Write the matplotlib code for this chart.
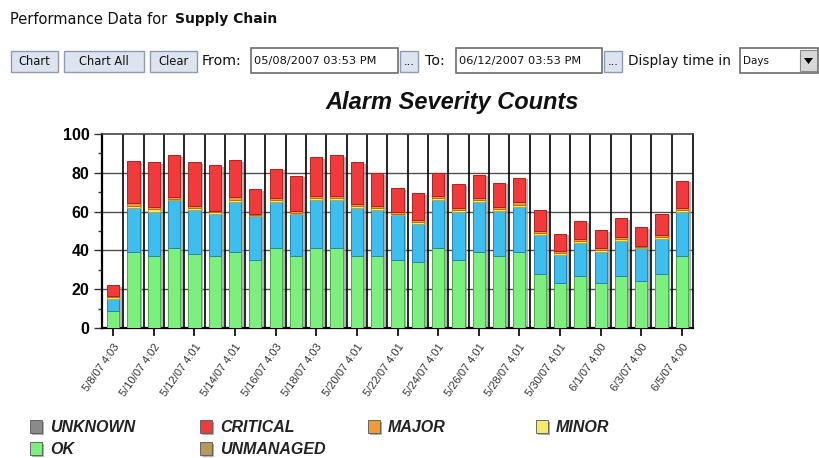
import numpy as np
import matplotlib
matplotlib.use("Agg")
from matplotlib import pyplot as plt
from matplotlib.patches import Rectangle, Polygon

# daily alarm counts per severity, 5/8/07 .. 6/5/07
ok = [9, 39, 37, 41, 38, 37, 39, 35, 41, 37, 41, 41, 37, 37, 35,
      34, 41, 35, 39, 37, 39, 28, 23, 27, 23, 27, 24, 28, 37]
warning = [6, 23, 23, 25, 23, 22, 26, 22.5, 24, 22, 25, 25, 25, 24, 23,
           19.5, 25, 25, 26, 23.5, 23.5, 20, 14.5, 17, 16, 18, 17, 18, 23]
minor = [1, 1, 1.5, 0.5, 1, 0.7, 1, 0.5, 1, 0.5, 1, 1, 1, 0.8, 1,
         1, 1, 1, 1, 1, 1, 1, 1, 1, 1, 1, 0.5, 1, 1]
major = [0.5, 1.5, 1, 1, 1, 0.8, 1.5, 1, 1, 1, 1, 1, 1, 1, 1,
         1, 1, 1, 1, 1, 1.5, 1, 1, 1, 1, 1, 1, 1, 1]
critical = [5.5, 21.5, 23, 21.5, 22.5, 23.5, 19, 12.5, 15, 18, 20, 21, 21.5, 17, 12,
            14, 12, 12, 12, 12.5, 12.5, 11, 9, 9, 9.5, 9.5, 9.5, 11, 14]

tick_labels = ["5/8/07 4:03", "5/10/07 4:02", "5/12/07 4:01", "5/14/07 4:01",
               "5/16/07 4:03", "5/18/07 4:03", "5/20/07 4:01", "5/22/07 4:01",
               "5/24/07 4:01", "5/26/07 4:01", "5/28/07 4:01", "5/30/07 4:01",
               "6/1/07 4:00", "6/3/07 4:00", "6/5/07 4:00"]

legend_names = ["UNKNOWN", "CRITICAL", "MAJOR", "MINOR", "OK", "UNMANAGED"]
legend_colors = ["#8a8a8a", "#f23a3a", "#f29a38", "#f2ec6a", "#7cf07c", "#b89a58"]

fig = plt.figure(figsize=(8.19, 4.58), dpi=100)
fig.patch.set_facecolor("white")

# page controls drawn in pixel coordinates
ui = fig.add_axes([0, 0, 1, 1])
ui.set_xlim(0, 819)
ui.set_ylim(458, 0)
ui.axis("off")

ui.text(10, 19, "Performance Data for", fontsize=10.5, va="center", color="#111")
ui.text(175, 19, "Supply Chain", fontsize=10, fontweight="bold", va="center", color="#111")

def button(x0, x1, label):
    ui.add_patch(Rectangle((x0, 51), x1 - x0, 21, fc="#dde4ef", ec="#8d9bb2", lw=1))
    ui.text((x0 + x1) / 2, 61.5, label, fontsize=8.3, ha="center", va="center", color="#111")

def field(x0, x1, label, size=8.2):
    ui.add_patch(Rectangle((x0, 48), x1 - x0, 25, fc="white", ec="#6d6d6d", lw=1.2))
    ui.text(x0 + 3, 61, label, fontsize=size, ha="left", va="center", color="#111")

button(11, 58, "Chart")
button(64, 144, "Chart All")
button(150, 197, "Clear")
ui.text(202, 61, "From:", fontsize=10.2, va="center", color="#111")
field(251, 398, "05/08/2007 03:53 PM")
button(400, 418, "...")
ui.text(425, 61, "To:", fontsize=10.2, va="center", color="#111")
field(456, 602, "06/12/2007 03:53 PM")
button(604, 622, "...")
ui.text(628, 61, "Display time in", fontsize=9.8, va="center", color="#111")
field(740, 818, "Days", size=7.5)
ui.add_patch(Rectangle((800, 50), 17, 21, fc="#d8d8d8", ec="#8a8a8a", lw=0.8))
ui.add_patch(Polygon([[804, 58], [813, 58], [808.5, 64]], closed=True, fc="black"))

# legend rows
cols = [30, 200, 368, 536, 30, 200]
rows = [427, 427, 427, 427, 449, 449]
for name, c, lx, ly in zip(legend_names, legend_colors, cols, rows):
    ui.add_patch(Rectangle((lx + 2, ly - 5), 12, 13, fc="#b0b0b0", ec="none"))
    ui.add_patch(Rectangle((lx, ly - 7), 12, 13, fc=c, ec="#555555", lw=0.6))
    ui.text(lx + 20, ly, name, fontsize=11.5, fontweight="bold", style="italic",
            family="Liberation Sans", va="center", color="#222")

fig.text(452 / 819, 1 - 102 / 458, "Alarm Severity Counts", fontsize=17,
         fontweight="bold", style="italic", family="Liberation Sans",
         ha="center", va="center", color="#111")

# stacked bar chart
ax = fig.add_axes([102 / 819, 130 / 458, 591 / 819, 194 / 458])
x = np.arange(len(ok))
series = [ok, warning, minor, major, critical]
fills = ["#7cf07c", "#3cbfee", "#f2ec6a", "#f29a38", "#f23a3a"]
edges = ["#4aa84a", "#2585b0", "#b8a830", "#c06a10", "#b02020"]
totals = np.sum(np.array(series, dtype=float), axis=0)

ax.bar(x + 0.14, totals - 0.8, width=0.6, color="#9a9a9a", alpha=0.75, zorder=2)
bottom = np.zeros(len(x))
for vals, fc, ec in zip(series, fills, edges):
    ax.bar(x, vals, width=0.6, bottom=bottom, color=fc, edgecolor=ec, lw=0.7, zorder=3)
    bottom += np.array(vals, dtype=float)

for y in [20, 40, 60, 80]:
    ax.axhline(y, color="#505050", lw=1, zorder=1)
for i in range(len(x) - 1):
    ax.axvline(i + 0.5, color="black", lw=1.2, zorder=1)

ax.set_xlim(-0.55, len(x) - 0.45)
ax.set_ylim(0, 100)
for side in ["left", "bottom"]:
    ax.spines[side].set_linewidth(1.6)
    ax.spines[side].set_color("black")
ax.spines["top"].set_linewidth(1.2)
ax.spines["top"].set_color("#444444")
ax.spines["right"].set_linewidth(1.2)

ax.set_yticks([0, 20, 40, 60, 80, 100])
ax.set_yticks([10, 30, 50, 70, 90], minor=True)
ax.set_yticklabels(["0", "20", "40", "60", "80", "100"], fontsize=11.5,
                   fontweight="bold", family="Liberation Sans")
ax.tick_params(axis="y", which="major", length=6, width=1, color="#333", pad=3)
ax.tick_params(axis="y", which="minor", length=3, width=1, color="#333")

ax.set_xticks(x[::2])
ax.set_xticklabels(tick_labels, rotation=55, ha="right", rotation_mode="anchor",
                   fontsize=8, family="Liberation Sans", color="#333")
ax.tick_params(axis="x", length=6, width=1.2, color="black", pad=4)

fig.savefig("out.png", dpi=100)
